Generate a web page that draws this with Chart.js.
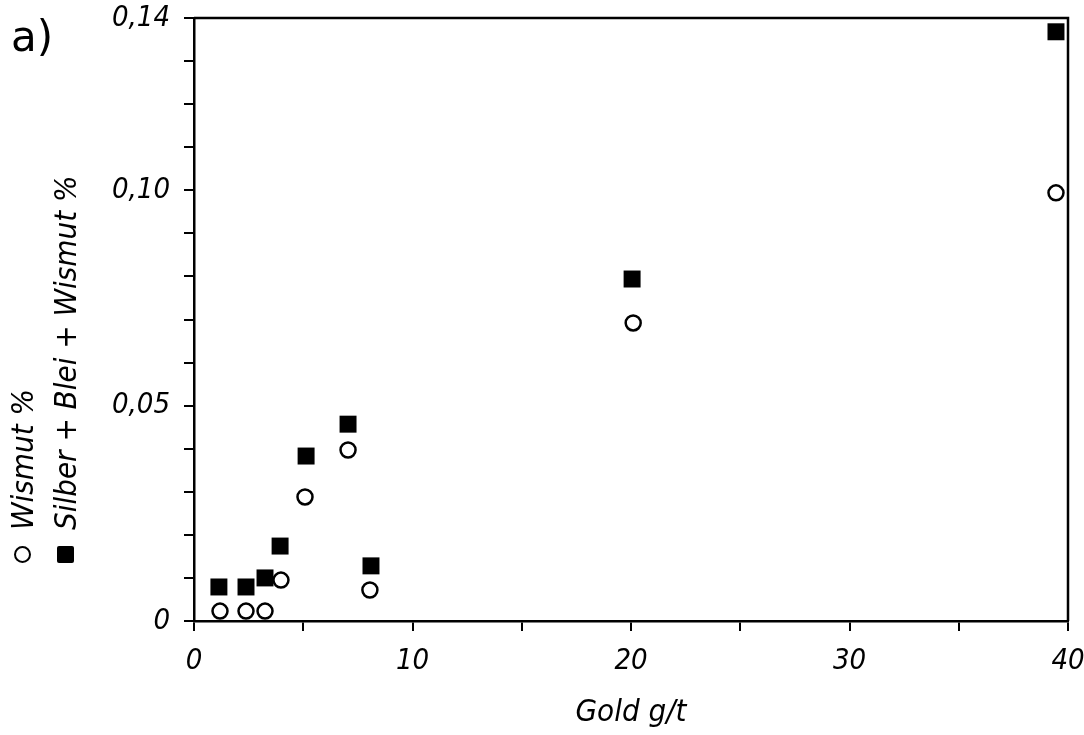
<!DOCTYPE html>
<html>
<head>
    <meta charset="UTF-8">
    <title>Gold g/t</title>
    <script src="https://cdn.jsdelivr.net/npm/chart.js"></script>
    <style>
        body {
            margin: 0;
            background: white;
            font-family: 'DejaVu Sans Condensed', 'DejaVu Sans', sans-serif;
        }
        .wrap {
            position: relative;
            width: 1084px;
            height: 735px;
        }
        .panel {
            position: absolute;
            left: 11px;
            top: 16px;
            font-size: 42px;
            line-height: 1;
            font-family: 'DejaVu Sans', sans-serif;
        }
        .leg {
            position: absolute;
            top: 563px;
            white-space: nowrap;
            transform-origin: 0 0;
            transform: rotate(-90deg);
            font-size: 31px;
            font-style: italic;
            line-height: 42px;
            height: 42px;
        }
        .mk {
            display: inline-block;
            vertical-align: middle;
            margin-right: 16px;
            position: relative;
            top: -2px;
        }
        .mk.circ {
            width: 13px;
            height: 13px;
            border: 2.5px solid black;
            border-radius: 50%;
        }
        .mk.sq {
            width: 17px;
            height: 17px;
            background: black;
            border-radius: 2px;
        }
    </style>
</head>
<body>
<div class="wrap">
    <canvas id="chart" width="1084" height="735"></canvas>
    <div class="panel">a)</div>
    <div class="leg" style="left:1px"><span class="mk circ"></span>Wismut %</div>
    <div class="leg" style="left:44px"><span class="mk sq"></span>Silber + Blei + Wismut %</div>
</div>

<script>
    // Gold g/t (x) und Gehalte in % (y)
    const goldSumme = [1.14, 2.38, 3.25, 3.94, 5.13, 7.05, 8.10, 20.05, 39.45];
    const summeWerte = [0.0079, 0.0079, 0.0100, 0.0174, 0.0383, 0.0457, 0.0128, 0.0794, 0.1368];

    const goldWismut = [1.19, 2.38, 3.25, 3.98, 5.08, 7.05, 8.05, 20.10, 39.45];
    const wismutWerte = [0.0023, 0.0023, 0.0023, 0.0095, 0.0288, 0.0397, 0.0072, 0.0692, 0.0994];

    // Beschriftete Achsenwerte
    const xLabelWerte = [0, 10, 20, 30, 40];
    const yLabelWerte = [0, 0.05, 0.10, 0.14];
    const yLabelTexte = ['0', '0,05', '0,10', '0,14'];

    const FONT = "'DejaVu Sans Condensed', 'DejaVu Sans', sans-serif";

    function toPoints(xs, ys) {
        return xs.map((x, i) => ({ x: x, y: ys[i] }));
    }

    // Rahmen oben und rechts
    const frame = {
        id: 'frame',
        afterDraw(chart) {
            const a = chart.chartArea;
            const ctx = chart.ctx;
            ctx.save();
            ctx.strokeStyle = '#000';
            ctx.lineWidth = 2.5;
            ctx.beginPath();
            ctx.moveTo(a.left, a.top);
            ctx.lineTo(a.right, a.top);
            ctx.lineTo(a.right, a.bottom);
            ctx.stroke();
            ctx.restore();
        }
    };

    new Chart(document.getElementById('chart'), {
        type: 'scatter',
        data: {
            datasets: [
                {
                    label: 'Silber + Blei + Wismut %',
                    data: toPoints(goldSumme, summeWerte),
                    pointStyle: 'rect',
                    pointRadius: 12,
                    backgroundColor: '#000',
                    borderColor: '#000',
                    borderWidth: 0
                },
                {
                    label: 'Wismut %',
                    data: toPoints(goldWismut, wismutWerte),
                    pointStyle: 'circle',
                    pointRadius: 7.5,
                    backgroundColor: '#fff',
                    borderColor: '#000',
                    borderWidth: 2.5
                }
            ]
        },
        options: {
            responsive: false,
            animation: false,
            layout: { padding: { left: 0, right: 16, top: 18, bottom: 0 } },
            plugins: {
                legend: { display: false },
                tooltip: { enabled: false }
            },
            scales: {
                x: {
                    type: 'linear',
                    min: 0,
                    max: 40,
                    afterFit(scale) {
                        scale.height = 114;
                        scale.paddingLeft = 0;
                        scale.paddingRight = 0;
                    },
                    border: { display: true, color: '#000', width: 2.5 },
                    grid: {
                        drawOnChartArea: false,
                        drawTicks: true,
                        tickLength: 10,
                        color: '#000',
                        lineWidth: 2
                    },
                    ticks: {
                        stepSize: 5,
                        autoSkip: false,
                        maxRotation: 0,
                        padding: 13,
                        color: '#000',
                        font: { family: FONT, size: 29, style: 'italic' },
                        callback: v => xLabelWerte.includes(v) ? String(v) : ''
                    },
                    title: {
                        display: true,
                        text: 'Gold g/t',
                        color: '#000',
                        padding: { top: 0, bottom: 3 },
                        font: { family: FONT, size: 31, style: 'italic' }
                    }
                },
                y: {
                    type: 'linear',
                    min: 0,
                    max: 0.14,
                    afterFit(scale) {
                        scale.width = 194;
                        scale.paddingTop = 0;
                        scale.paddingBottom = 0;
                    },
                    border: { display: true, color: '#000', width: 2.5 },
                    grid: {
                        drawOnChartArea: false,
                        drawTicks: true,
                        tickLength: 10,
                        color: '#000',
                        lineWidth: 2
                    },
                    ticks: {
                        stepSize: 0.01,
                        autoSkip: false,
                        padding: 14,
                        color: '#000',
                        font: { family: FONT, size: 29, style: 'italic' },
                        callback: function (v) {
                            const i = yLabelWerte.findIndex(w => Math.abs(w - v) < 1e-6);
                            return i >= 0 ? yLabelTexte[i] : '';
                        }
                    }
                }
            }
        },
        plugins: [frame]
    });
</script>
</body>
</html>
